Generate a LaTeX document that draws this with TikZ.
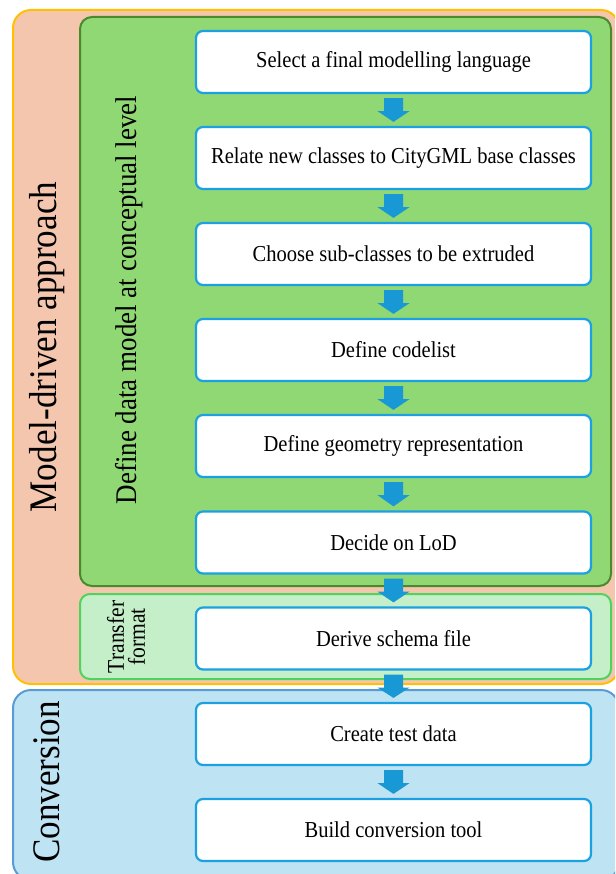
\documentclass[tikz,border=0pt]{standalone}
\usepackage{fontspec}
\setmainfont[FakeStretch=0.9]{Liberation Serif}
\usetikzlibrary{calc}
\definecolor{orfill}{HTML}{F4C6AE}
\definecolor{orline}{HTML}{FFC000}
\definecolor{dgfill}{HTML}{8FD874}
\definecolor{dgline}{HTML}{4A8A2C}
\definecolor{lgfill}{HTML}{C4EFC8}
\definecolor{lgline}{HTML}{4FD35E}
\definecolor{blfill}{HTML}{BEE3F3}
\definecolor{blline}{HTML}{5B9BD5}
\definecolor{boxline}{HTML}{1BA1E2}
\definecolor{arrowc}{HTML}{1898D5}
\tikzset{
  stepbox/.style={draw=boxline, line width=2.2pt, fill=white, rounded corners=7pt,
    minimum width=395pt, minimum height=62pt, inner sep=0pt,
    font=\fontsize{22.8}{26}\selectfont},
  biglabel/.style={rotate=90, font=\fontsize{39}{42}\selectfont, inner sep=0pt},
  midlabel/.style={rotate=90, font=\fontsize{30}{33}\selectfont, inner sep=0pt},
}
\newcommand{\flowarr}[2]{%
  \fill[arrowc] ($(#1.south)+(-9.5,4)$) -- ($(#1.south)+(9.5,4)$) -- ($(#1.south)+(9.5,17)$)
    -- ($(#1.south)+(16,17)$) -- ($(#2.north)+(0,-4)$) -- ($(#1.south)+(-16,17)$)
    -- ($(#1.south)+(-9.5,17)$) -- cycle;}
\begin{document}
\begin{tikzpicture}[x=1pt,y=-1pt]
\useasboundingbox (0,0) rectangle (615,874);
\clip (0,0) rectangle (615,874);
% outer groups
\draw[fill=orfill, draw=orline, line width=2pt, rounded corners=18pt] (13,10) rectangle (619,684);
\draw[fill=blfill, draw=blline, line width=2pt, rounded corners=18pt] (13,690) rectangle (619,880);
\node[biglabel] (mda) at (47,347) {Model-driven approach};
\node[biglabel] (conv) at (47,782) {Conversion};
% inner green groups
\draw[fill=dgfill, draw=dgline, line width=2pt, rounded corners=12pt] (80,17) rectangle (611,586);
\draw[fill=lgfill, draw=lgline, line width=2pt, rounded corners=10pt] (80,594) rectangle (611,679);
\node[midlabel] (ddm) at (129,300) {Define data model at conceptual level};
\node[rotate=90, font=\fontsize{24}{21}\selectfont, align=center, inner sep=0pt] (tf) at (126,637) {Transfer\\format};
% step boxes
\node[stepbox] (b1) at (393.5,62) {Select a final modelling language};
\node[stepbox] (b2) at (393.5,158) {Relate new classes to CityGML base classes};
\node[stepbox] (b3) at (393.5,254) {Choose sub-classes to be extruded};
\node[stepbox] (b4) at (393.5,350) {Define codelist};
\node[stepbox] (b5) at (393.5,446) {Define geometry representation};
\node[stepbox] (b6) at (393.5,542.5) {Decide on LoD};
\node[stepbox] (b7) at (393.5,638.5) {Derive schema file};
\node[stepbox] (b8) at (393.5,734) {Create test data};
\node[stepbox] (b9) at (393.5,830) {Build conversion tool};
% arrows
\flowarr{b1}{b2}
\flowarr{b2}{b3}
\flowarr{b3}{b4}
\flowarr{b4}{b5}
\flowarr{b5}{b6}
\flowarr{b6}{b7}
\flowarr{b7}{b8}
\flowarr{b8}{b9}
\end{tikzpicture}
\end{document}
